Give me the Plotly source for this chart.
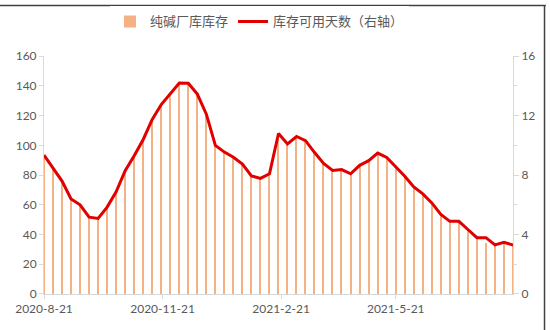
import pandas as pd
import plotly.graph_objects as go

# weekly dates starting 2020-08-21 (53 weeks)
dates = pd.date_range("2020-08-21", periods=53, freq="7D")

stock = [93.5, 85, 76, 64, 60, 51.7, 50.8, 58.5, 68.8, 83,
         93, 104, 117.5, 127.5, 135, 142, 141.8, 134.5, 121, 100,
         95.5, 92, 87.5, 79.5, 77.8, 80.9, 108, 101, 106, 103.2,
         95.2, 87.8, 83.1, 83.7, 80.9, 86.6, 89.7, 94.8, 91.9, 85.6,
         79.3, 72.1, 67.4, 61.3, 53.6, 48.9, 48.9, 43.4, 37.9, 34,
         33, 34.8, 33]

days = [9.35, 8.5, 7.6, 6.4, 6.0, 5.17, 5.08, 5.85, 6.88, 8.3,
        9.3, 10.4, 11.75, 12.75, 13.5, 14.2, 14.18, 13.45, 12.1, 10.0,
        9.55, 9.2, 8.75, 7.95, 7.78, 8.09, 10.8, 10.1, 10.6, 10.32,
        9.52, 8.78, 8.31, 8.37, 8.09, 8.66, 8.97, 9.48, 9.19, 8.56,
        7.93, 7.21, 6.74, 6.13, 5.36, 4.89, 4.89, 4.34, 3.79, 3.79,
        3.3, 3.48, 3.3]

tick_vals = ["2020-08-21", "2020-11-21", "2021-02-21", "2021-05-21"]
tick_text = ["2020-8-21", "2020-11-21", "2021-2-21", "2021-5-21"]

font_family = "Lato, 'Open Sans', 'Noto Sans CJK SC', sans-serif"
tick_color = "#595959"
axis_color = "#D9D9D9"

fig = go.Figure()
fig.add_trace(go.Bar(
    x=dates, y=stock, name="纯碱厂库库存",
    marker=dict(color="#F4B183", line=dict(width=0)),
    width=1.0 * 86400000,
    yaxis="y",
))
fig.add_trace(go.Scatter(
    x=dates, y=days, name="库存可用天数（右轴）",
    mode="lines", line=dict(color="#E00000", width=3),
    yaxis="y2",
))

fig.update_layout(
    width=550, height=330,
    margin=dict(l=44, r=37, t=52, b=36),
    paper_bgcolor="white", plot_bgcolor="white",
    font=dict(family=font_family, size=12, color=tick_color),
    showlegend=True,
    legend=dict(
        orientation="h", xref="container", yref="container",
        x=0.2, xanchor="left", y=0.935, yanchor="middle",
        font=dict(size=13, color=tick_color),
        itemwidth=30, tracegroupgap=0,
    ),
    bargap=0,
    xaxis=dict(
        type="date",
        range=["2020-08-21", "2021-08-20"],
        tickvals=tick_vals, ticktext=tick_text,
        showline=True, linecolor=axis_color, linewidth=1,
        ticks="outside", ticklen=4, tickcolor=axis_color,
        showgrid=False, zeroline=False,
        tickfont=dict(size=12, color=tick_color),
    ),
    yaxis=dict(
        range=[0, 160], dtick=20,
        showline=True, linecolor=axis_color, linewidth=1,
        ticks="outside", ticklen=4, tickcolor=axis_color,
        showgrid=False, zeroline=False,
        tickfont=dict(size=12, color=tick_color),
    ),
    yaxis2=dict(
        overlaying="y", side="right",
        range=[0, 16], dtick=4,
        showline=True, linecolor=axis_color, linewidth=1,
        ticks="outside", ticklen=5, tickcolor=axis_color,
        minor=dict(dtick=2, ticks="outside", ticklen=3, tickcolor=axis_color),
        showgrid=False, zeroline=False,
        tickfont=dict(size=12, color=tick_color),
    ),
    shapes=[
        dict(type="line", xref="paper", yref="paper",
             x0=-0.1, x1=1.07, y0=1.213, y1=1.213,
             line=dict(color="#404040", width=1.5)),
        dict(type="line", xref="paper", yref="paper",
             x0=1.0672, x1=1.0672, y0=-0.2, y1=1.213,
             line=dict(color="#404040", width=1.5)),
    ],
)

fig.write_html("out.html")
